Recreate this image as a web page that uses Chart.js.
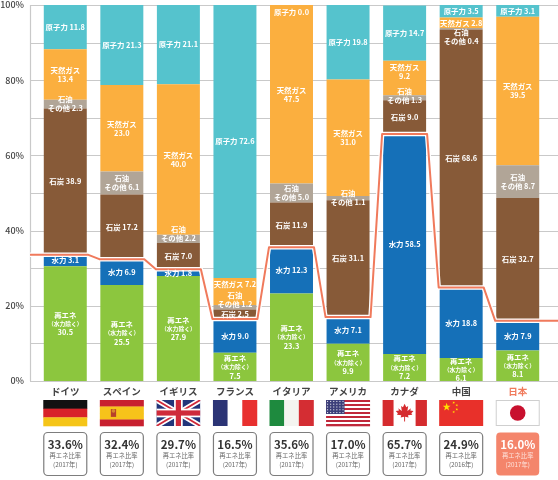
<!DOCTYPE html>
<html lang="ja">
<head>
<meta charset="utf-8">
<title>電源構成</title>
<script src="https://cdn.jsdelivr.net/npm/chart.js@4.4.1/dist/chart.umd.min.js"></script>
<style>
  html, body { margin: 0; padding: 0; background: #fff; }
  #wrap { width: 558px; height: 480px; }
</style>
</head>
<body>
<div id="wrap"><canvas id="myChart" width="558" height="480"></canvas></div>
<script>
// 国
const countries = ['ドイツ', 'スペイン', 'イギリス', 'フランス', 'イタリア', 'アメリカ', 'カナダ', '中国', '日本'];
// 電源構成（%）下から順に積み上げ
const renewable = [30.5, 25.5, 27.9, 7.5, 23.3, 9.9, 7.2, 6.1, 8.1];
const hydro     = [3.1, 6.9, 1.8, 9.0, 12.3, 7.1, 58.5, 18.8, 7.9];
const coal      = [38.9, 17.2, 7.0, 2.5, 11.9, 31.1, 9.0, 68.6, 32.7];
const oil       = [2.3, 6.1, 2.2, 1.2, 5.0, 1.1, 1.3, 0.4, 8.7];
const gas       = [13.4, 23.0, 40.0, 7.2, 47.5, 31.0, 9.2, 2.8, 39.5];
const nuclear   = [11.8, 21.3, 21.1, 72.6, 0.0, 19.8, 14.7, 3.5, 3.1];
// 再エネ比率
const ratio      = [33.6, 32.4, 29.7, 16.5, 35.6, 17.0, 65.7, 24.9, 16.0];
const ratioYears = [2017, 2017, 2017, 2017, 2017, 2017, 2017, 2016, 2017];
// 目盛り
const yTicks = [0, 20, 40, 60, 80, 100];

const FONT = "'Noto Sans CJK JP', 'Noto Sans', sans-serif";
const RED = '#f07a5c';

// ラベルの上下ずらし（px）
const labelShift = { '3-2': -5, '4-3': -7, '3-3': -8, '3-7': 8, '4-6': -6, '5-4': 6, '4-7': 1, '3-6': -2 };

function labelLines(s, v) {
	const t = v.toFixed(1);
	if (s === 0) return ['再エネ', '（水力除く）', t];
	if (s === 1) return ['水力 ' + t];
	if (s === 2) return ['石炭 ' + t];
	if (s === 3) return ['石油', 'その他 ' + t];
	if (s === 4) return v < 8 ? ['天然ガス ' + t] : ['天然ガス', t];
	return ['原子力 ' + t];
}

// 背景の罫線
const gridPlugin = {
	id: 'grid',
	beforeDatasetsDraw(chart) {
		const ctx = chart.ctx, y = chart.scales.y;
		ctx.save();
		ctx.strokeStyle = '#c9c9c9';
		ctx.lineWidth = 1.2;
		for (let v = 0; v <= 100; v += 10) {
			const py = Math.round(y.getPixelForValue(v)) + 0.5;
			ctx.beginPath();
			ctx.moveTo(30, py);
			ctx.lineTo(chart.width, py);
			ctx.stroke();
		}
		ctx.beginPath();
		ctx.moveTo(30.5, y.getPixelForValue(100));
		ctx.lineTo(30.5, y.getPixelForValue(0));
		ctx.stroke();
		ctx.restore();
	}
};

// 再エネ比率の線
const ratioLine = {
	id: 'ratioLine',
	afterDatasetsDraw(chart) {
		const ctx = chart.ctx, y = chart.scales.y;
		const bars = chart.getDatasetMeta(0).data;
		const pts = [];
		ratio.forEach((r, i) => {
			const b = bars[i], py = y.getPixelForValue(r);
			if (i === 0) pts.push([30, py]);
			pts.push([b.x - b.width / 2 - 1, py], [b.x + b.width / 2 + 1, py]);
			if (i === ratio.length - 1) pts.push([chart.width, py]);
		});
		ctx.save();
		ctx.lineJoin = 'round';
		[['#fff', 4.5], [RED, 2]].forEach(([c, w]) => {
			ctx.strokeStyle = c;
			ctx.lineWidth = w;
			ctx.beginPath();
			pts.forEach((p, k) => k ? ctx.lineTo(p[0], p[1]) : ctx.moveTo(p[0], p[1]));
			ctx.stroke();
		});
		ctx.restore();
	}
};

// 棒の中の数値
const segLabels = {
	id: 'segLabels',
	afterDatasetsDraw(chart) {
		const ctx = chart.ctx;
		ctx.save();
		ctx.fillStyle = '#fff';
		ctx.textAlign = 'center';
		ctx.textBaseline = 'middle';
		chart.data.datasets.forEach((ds, s) => {
			chart.getDatasetMeta(s).data.forEach((bar, i) => {
				const lines = labelLines(s, ds.data[i]);
				const lh = 8.8;
				let cy = Math.max((bar.y + bar.base) / 2, chart.chartArea.top + 1);
				cy += labelShift[s + '-' + i] || 0;
				let ty = cy - (lines.length - 1) * lh / 2;
				lines.forEach(l => {
					const small = l.startsWith('（');
					ctx.font = (small ? '600 5.8px ' : '600 7.4px ') + FONT;
					ctx.fillText(l, bar.x, ty);
					ty += lh;
				});
			});
		});
		ctx.restore();
	}
};

// 国旗
function stripesH(ctx, x, y, w, h, cols) {
	cols.forEach((c, k) => { ctx.fillStyle = c; ctx.fillRect(x, y + h * k / cols.length, w, h / cols.length + 0.3); });
}
function stripesV(ctx, x, y, w, h, cols) {
	cols.forEach((c, k) => { ctx.fillStyle = c; ctx.fillRect(x + w * k / cols.length, y, w / cols.length + 0.3, h); });
}
function star(ctx, cx, cy, r, rot) {
	ctx.beginPath();
	for (let k = 0; k < 10; k++) {
		const a = rot - Math.PI / 2 + k * Math.PI / 5, rr = k % 2 ? r * 0.4 : r;
		ctx.lineTo(cx + rr * Math.cos(a), cy + rr * Math.sin(a));
	}
	ctx.closePath();
	ctx.fill();
}
const leaf = [[0,-1],[0.18,-0.62],[0.38,-0.74],[0.3,-0.22],[0.68,-0.5],[0.6,-0.28],[0.95,-0.22],[0.72,0.04],[0.82,0.2],[0.36,0.24],[0.42,0.48],[0.05,0.4],[0.05,0.9],[-0.05,0.9],[-0.05,0.4],[-0.42,0.48],[-0.36,0.24],[-0.82,0.2],[-0.72,0.04],[-0.95,-0.22],[-0.6,-0.28],[-0.68,-0.5],[-0.3,-0.22],[-0.38,-0.74],[-0.18,-0.62]];

const flagDraw = [
	(c, x, y, w, h) => stripesH(c, x, y, w, h, ['#111', '#d8232a', '#f5c518']),
	(c, x, y, w, h) => {
		stripesH(c, x, y, w, h, ['#c8202f', '#f7c31a', '#f7c31a', '#c8202f']);
		c.fillStyle = '#b7412a'; c.fillRect(x + w * 0.25, y + h * 0.35, w * 0.12, h * 0.3);
		c.fillStyle = '#d9892c'; c.beginPath(); c.arc(x + w * 0.31, y + h * 0.42, h * 0.07, 0, Math.PI * 2); c.fill();
	},
	(c, x, y, w, h) => {
		c.save();
		c.beginPath(); c.rect(x, y, w, h); c.clip();
		c.fillStyle = '#22357a'; c.fillRect(x, y, w, h);
		c.lineCap = 'butt';
		c.strokeStyle = '#fff'; c.lineWidth = h / 5;
		c.beginPath(); c.moveTo(x, y); c.lineTo(x + w, y + h); c.moveTo(x + w, y); c.lineTo(x, y + h); c.stroke();
		c.strokeStyle = '#cf2a3a'; c.lineWidth = h / 14;
		c.beginPath(); c.moveTo(x, y); c.lineTo(x + w, y + h); c.moveTo(x + w, y); c.lineTo(x, y + h); c.stroke();
		c.fillStyle = '#fff';
		c.fillRect(x + w / 2 - h / 6, y, h / 3, h); c.fillRect(x, y + h / 3, w, h / 3);
		c.fillStyle = '#cf2a3a';
		c.fillRect(x + w / 2 - h / 10, y, h / 5, h); c.fillRect(x, y + h * 0.4, w, h / 5);
		c.restore();
	},
	(c, x, y, w, h) => stripesV(c, x, y, w, h, ['#2b3475', '#fff', '#e8302f']),
	(c, x, y, w, h) => stripesV(c, x, y, w, h, ['#1e8a3e', '#f4f4f0', '#d42d33']),
	(c, x, y, w, h) => {
		for (let k = 0; k < 13; k++) { c.fillStyle = k % 2 ? '#fff' : '#c0283a'; c.fillRect(x, y + h * k / 13, w, h / 13 + 0.3); }
		const cw = w * 0.42, ch = h * 7 / 13;
		c.fillStyle = '#3c3f7a'; c.fillRect(x, y, cw, ch);
		c.fillStyle = '#fff';
		for (let r = 0; r < 5; r++) for (let q = 0; q < 6; q++) c.fillRect(x + cw * (q + 0.5) / 6 - 0.5, y + ch * (r + 0.5) / 5 - 0.5, 1, 1);
	},
	(c, x, y, w, h) => {
		stripesV(c, x, y, w, h, ['#d52b2e', '#fff', '#fff', '#d52b2e']);
		c.fillStyle = '#d52b2e';
		const s = h * 0.36, cx = x + w / 2, cy = y + h / 2;
		c.beginPath();
		leaf.forEach(p => c.lineTo(cx + p[0] * s, cy + p[1] * s));
		c.closePath(); c.fill();
	},
	(c, x, y, w, h) => {
		c.fillStyle = '#e8302a'; c.fillRect(x, y, w, h);
		c.fillStyle = '#ffde00';
		star(c, x + w * 0.17, y + h * 0.27, h * 0.16, 0);
		[[0.33, 0.1], [0.4, 0.2], [0.4, 0.36], [0.33, 0.46]].forEach(p => star(c, x + w * p[0], y + h * p[1], h * 0.055, 0.3));
	},
	(c, x, y, w, h) => {
		c.fillStyle = '#fff'; c.fillRect(x, y, w, h);
		c.strokeStyle = '#cfcfcf'; c.lineWidth = 1; c.strokeRect(x + 0.5, y + 0.5, w - 1, h - 1);
		c.fillStyle = '#c8102e'; c.beginPath(); c.arc(x + w / 2, y + h / 2, h * 0.3, 0, Math.PI * 2); c.fill();
	}
];

function roundBox(ctx, x, y, w, h, r) {
	ctx.beginPath();
	ctx.moveTo(x + r, y);
	ctx.arcTo(x + w, y, x + w, y + h, r);
	ctx.arcTo(x + w, y + h, x, y + h, r);
	ctx.arcTo(x, y + h, x, y, r);
	ctx.arcTo(x, y, x + w, y, r);
	ctx.closePath();
}

// 国旗と比率の箱
const footer = {
	id: 'footer',
	afterDraw(chart) {
		const ctx = chart.ctx;
		const bars = chart.getDatasetMeta(0).data;
		ctx.save();
		bars.forEach((b, i) => {
			const last = i === bars.length - 1;
			const bx = b.x - 22, w = 44;
			flagDraw[i](ctx, bx, 400, w, 26);
			roundBox(ctx, bx + 0.5, 432.5, w - 1, 43, 4);
			if (last) {
				ctx.fillStyle = '#f4856b';
				ctx.fill();
			} else {
				ctx.strokeStyle = '#7d7d7d';
				ctx.lineWidth = 1.2;
				ctx.stroke();
			}
			ctx.textAlign = 'center';
			ctx.textBaseline = 'middle';
			ctx.fillStyle = last ? '#fff' : '#333';
			ctx.font = '600 11.5px ' + FONT;
			ctx.fillText(ratio[i].toFixed(1) + '%', b.x, 445);
			ctx.fillStyle = last ? '#fde3dc' : '#666';
			ctx.font = '6.3px ' + FONT;
			ctx.fillText('再エネ比率', b.x, 456);
			ctx.fillText('(' + ratioYears[i] + '年)', b.x, 464.5);
		});
		ctx.restore();
	}
};

const colors = ['#8cc63e', '#1570b8', '#875a38', '#b1a597', '#fbaf3f', '#55c3cd'];
const series = [renewable, hydro, coal, oil, gas, nuclear];
const names = ['再エネ（水力除く）', '水力', '石炭', '石油その他', '天然ガス', '原子力'];

new Chart('myChart', {
	type: 'bar',
	data: {
		labels: countries,
		datasets: series.map((d, k) => ({
			label: names[k],
			data: d,
			backgroundColor: colors[k],
			borderWidth: 0,
			barPercentage: 0.76,
			categoryPercentage: 1
		}))
	},
	options: {
		responsive: false,
		animation: false,
		layout: { padding: { top: 5, right: 12, left: 0, bottom: 0 } },
		plugins: { legend: { display: false }, tooltip: { enabled: false } },
		scales: {
			x: {
				stacked: true,
				grid: { display: false, drawTicks: false },
				border: { display: false },
				afterFit(scale) { scale.height = 99; scale.paddingLeft = 0; scale.paddingRight = 0; },
				ticks: {
					padding: 5,
					color: (c) => c.index === countries.length - 1 ? RED : '#444',
					font: { family: FONT, size: 9.5, weight: 'bold' }
				}
			},
			y: {
				stacked: true,
				min: 0,
				max: 100,
				grid: { display: false, drawTicks: false },
				border: { display: false },
				afterFit(scale) { scale.width = 37; scale.paddingTop = 0; scale.paddingBottom = 0; },
				afterBuildTicks(scale) { scale.ticks = yTicks.map(v => ({ value: v })); },
				ticks: {
					padding: 13,
					color: '#444',
					font: { family: FONT, size: 9, weight: '500' },
					callback: (v) => v + '%'
				}
			}
		}
	},
	plugins: [gridPlugin, ratioLine, segLabels, footer]
});
</script>
</body>
</html>
